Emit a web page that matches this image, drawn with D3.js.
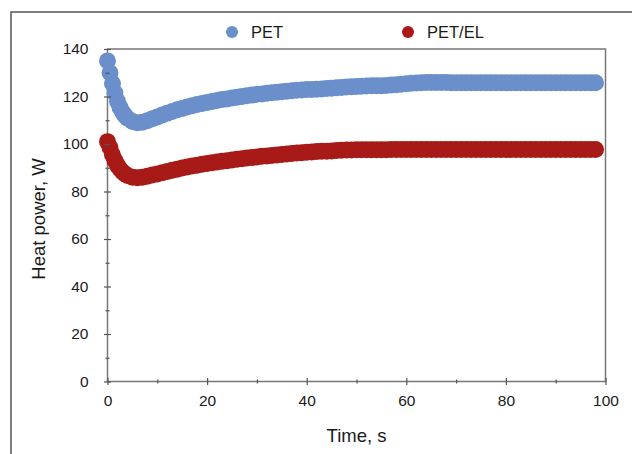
<!DOCTYPE html>
<html>
<head>
<meta charset="utf-8">
<script src="https://cdn.jsdelivr.net/npm/d3@7"></script>
<style>
  body { margin: 0; background: #fff; }
  svg text { font-family: "Liberation Sans", Arial, sans-serif; fill: #1a1a1a; }
</style>
</head>
<body>
<div class="chart"></div>
<script>
var svgWidth = 632;
var svgHeight = 454;

// time (s) of each sample
var times = [0, 0.5, 1, 1.5, 2, 2.5, 3, 3.5, 4, 5, 6, 7, 8, 9, 10,
  11, 12, 13, 14, 15, 16, 17, 18, 19, 20, 21, 22, 23, 24, 25, 26, 27, 28, 29, 30,
  31, 32, 33, 34, 35, 36, 37, 38, 39, 40, 41, 42, 43, 44, 45, 46, 47, 48, 49, 50,
  51, 52, 53, 54, 55, 56, 57, 58, 59, 60, 61, 62, 63, 64, 65, 66, 67, 68, 69, 70,
  71, 72, 73, 74, 75, 76, 77, 78, 79, 80, 81, 82, 83, 84, 85, 86, 87, 88, 89, 90,
  91, 92, 93, 94, 95, 96, 97, 98];

// heat power, W
var pet = [135, 130, 125.5, 121.5, 118, 115.5, 113.5, 112, 110.8, 109.5, 109, 109.2, 109.8, 110.6, 111.4,
  112.2, 113, 113.7, 114.4, 115, 115.6, 116.1, 116.6, 117.1, 117.5, 117.9, 118.3, 118.7, 119, 119.4, 119.7, 120, 120.3, 120.6, 120.9,
  121.1, 121.4, 121.6, 121.8, 122, 122.2, 122.4, 122.6, 122.7, 122.9, 123, 123.1, 123.2, 123.4, 123.5, 123.7, 123.8, 124, 124.1, 124.2,
  124.3, 124.4, 124.5, 124.5, 124.5, 124.6, 124.8, 125, 125.2, 125.4, 125.6, 125.7, 125.8, 125.9, 125.9, 125.9, 125.9, 125.9, 125.8, 125.8,
  125.8, 125.8, 125.8, 125.8, 125.8, 125.8, 125.8, 125.8, 125.8, 125.8, 125.8, 125.8, 125.8, 125.8, 125.8, 125.8, 125.8, 125.8, 125.8, 125.8,
  125.8, 125.8, 125.8, 125.8, 125.8, 125.8, 125.8, 125.8];

var petEl = [101, 98.5, 95.5, 93, 91, 89.5, 88.3, 87.4, 86.7, 86, 85.8, 86, 86.4, 86.9, 87.4,
  87.9, 88.4, 88.9, 89.4, 89.9, 90.3, 90.7, 91.1, 91.5, 91.8, 92.1, 92.4, 92.7, 93, 93.3, 93.6, 93.8, 94.1, 94.3, 94.5,
  94.8, 95, 95.2, 95.4, 95.6, 95.8, 96, 96.2, 96.3, 96.5, 96.6, 96.8, 96.9, 97, 97.1, 97.3, 97.4, 97.5, 97.5, 97.6,
  97.6, 97.6, 97.6, 97.6, 97.6, 97.6, 97.7, 97.7, 97.7, 97.7, 97.7, 97.7, 97.7, 97.7, 97.7, 97.7, 97.7, 97.7, 97.7, 97.7,
  97.7, 97.7, 97.7, 97.7, 97.7, 97.7, 97.7, 97.7, 97.7, 97.7, 97.7, 97.7, 97.7, 97.7, 97.7, 97.7, 97.7, 97.7, 97.7, 97.7,
  97.7, 97.7, 97.7, 97.7, 97.7, 97.7, 97.7, 97.7];

var seriesNames = ["PET", "PET/EL"];
var seriesColors = ["#6b8fca", "#a81a17"];

var xMajor = [0, 20, 40, 60, 80, 100];
var xMinor = [10, 30, 50, 70, 90];
var yMajor = [0, 20, 40, 60, 80, 100, 120, 140];
var yMinor = [10, 30, 50, 70, 90, 110, 130];

var plot = { left: 107.5, right: 605.5, top: 49, bottom: 381.5 };

var svg = d3.select(".chart")
  .append("svg")
  .attr("width", svgWidth)
  .attr("height", svgHeight);

// outer frame (only top and left edges are inside the picture)
svg.append("path")
  .attr("d", "M11,460 L11,12 L640,12")
  .attr("fill", "none")
  .attr("stroke", "#555")
  .attr("stroke-width", 1.5);

var xScale = d3.scaleLinear().domain([0, 100]).range([plot.left, plot.right]);
var yScale = d3.scaleLinear().domain([0, 140]).range([plot.bottom, plot.top]);

// plot frame
svg.append("rect")
  .attr("x", plot.left)
  .attr("y", plot.top)
  .attr("width", plot.right - plot.left)
  .attr("height", plot.bottom - plot.top)
  .attr("fill", "none")
  .attr("stroke", "#777")
  .attr("stroke-width", 1.5);

// points
var series = [pet, petEl];
series.forEach(function(values, i) {
  svg.append("g")
    .selectAll("circle")
    .data(values)
    .enter().append("circle")
    .attr("cx", function(d, j) { return xScale(times[j]); })
    .attr("cy", function(d) { return yScale(d); })
    .attr("r", 8.5)
    .attr("fill", seriesColors[i]);
});

// axes
function styleAxis(g) {
  g.select(".domain").remove();
  g.selectAll(".tick line").attr("stroke", "#555").attr("stroke-width", 1.2);
  g.selectAll(".tick text").attr("font-size", 15.5).attr("fill", "#1a1a1a")
    .style("font-family", "'Liberation Sans', Arial, sans-serif");
}

var bottomAxis = d3.axisBottom(xScale).tickValues(xMajor).tickSize(0).tickPadding(13);
var gx = svg.append("g")
  .attr("transform", "translate(0," + plot.bottom + ")")
  .call(bottomAxis);
styleAxis(gx);
gx.selectAll(".tick line").attr("y1", -3.5).attr("y2", 3.5);

var gxMinor = svg.append("g")
  .attr("transform", "translate(0," + plot.bottom + ")")
  .call(d3.axisBottom(xScale).tickValues(xMinor).tickSize(0).tickFormat(""));
styleAxis(gxMinor);
gxMinor.selectAll(".tick line").attr("y1", -2).attr("y2", 2);

var leftAxis = d3.axisLeft(yScale).tickValues(yMajor).tickSize(0).tickPadding(19);
var gy = svg.append("g")
  .attr("transform", "translate(" + plot.left + ",0)")
  .call(leftAxis);
styleAxis(gy);
gy.selectAll(".tick line").attr("x1", -3.5).attr("x2", 3.5);

var gyMinor = svg.append("g")
  .attr("transform", "translate(" + plot.left + ",0)")
  .call(d3.axisLeft(yScale).tickValues(yMinor).tickSize(0).tickFormat(""));
styleAxis(gyMinor);
gyMinor.selectAll(".tick line").attr("x1", -2).attr("x2", 2);

// axis titles
svg.append("text")
  .attr("x", (plot.left + plot.right) / 2)
  .attr("y", 442)
  .attr("text-anchor", "middle")
  .attr("font-size", 18.5)
  .text("Time, s");

svg.append("text")
  .attr("transform", "translate(45," + 219 + ") rotate(-90)")
  .attr("text-anchor", "middle")
  .attr("font-size", 18.5)
  .text("Heat power, W");

// legend
var legendX = [232, 408];
seriesNames.forEach(function(name, i) {
  svg.append("circle")
    .attr("cx", legendX[i])
    .attr("cy", 32)
    .attr("r", 6)
    .attr("fill", seriesColors[i]);
  svg.append("text")
    .attr("x", legendX[i] + 19)
    .attr("y", 38)
    .attr("font-size", 16.5)
    .text(name);
});
</script>
</body>
</html>
